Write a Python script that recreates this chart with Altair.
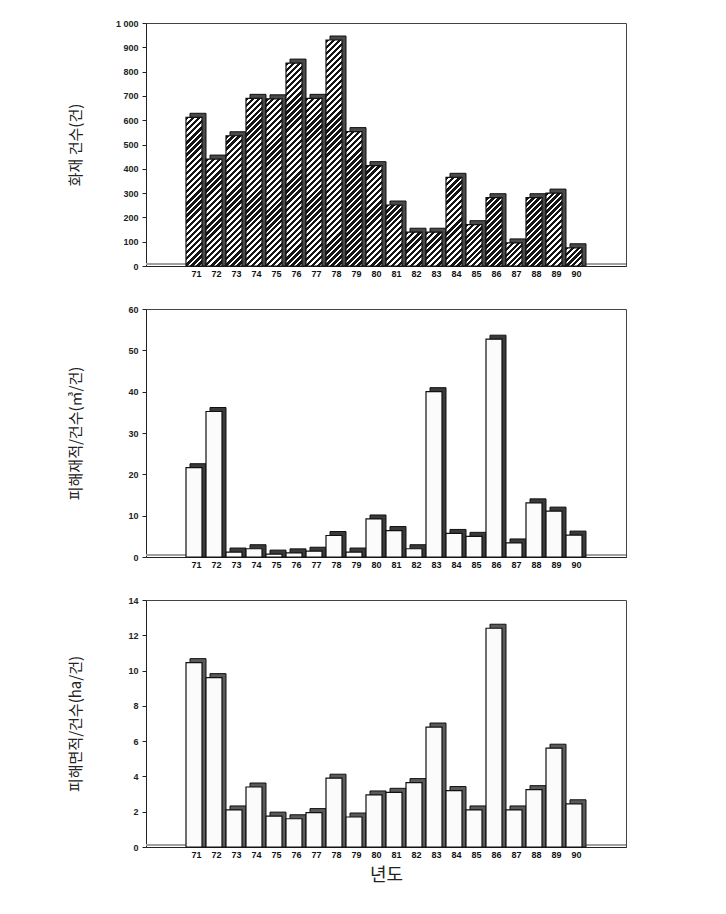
import altair as alt
import pandas as pd

# ---- data ----
years = list(range(71, 91))
fire_counts = [612, 440, 536, 690, 688, 835, 690, 930, 553, 413, 251, 139, 139, 365, 170, 281, 95, 281, 300, 75]
volume_per_fire = [21.6, 35.2, 1.2, 2.0, 0.7, 1.0, 1.4, 5.2, 1.2, 9.2, 6.4, 2.0, 40.0, 5.7, 5.0, 52.7, 3.4, 13.1, 11.1, 5.3]
area_per_fire = [10.45, 9.6, 2.1, 3.4, 1.75, 1.6, 1.95, 3.9, 1.7, 2.95, 3.1, 3.65, 6.8, 3.2, 2.1, 12.4, 2.1, 3.25, 5.6, 2.45]

y_titles = ["화재 건수(건)", "피해재적/건수(㎥/건)", "피해면적/건수(ha/건)"]
x_title = "년도"

# ---- style ----
W = 480
SLOT = W / 24.0
DEPTH = 4
FONT = "Liberation Sans"
KFONT = "Noto Sans CJK KR"
X_DOMAIN = [68.5, 92.5]


def hatch(h, w, period=6.0):
    """Diagonal black/white stripe fill built from a linear gradient (bbox units)."""
    h = max(h, 1.0)
    r = w / h
    k = (w + h) / (h * (1 + r * r))
    n = max(1, int(round((w + h) / period)))
    stops = []
    for i in range(n):
        a, m, b = i / n, (i + 0.55) / n, (i + 1) / n
        stops += [
            {"offset": a, "color": "#151515"},
            {"offset": m, "color": "#151515"},
            {"offset": m, "color": "#ffffff"},
            {"offset": b, "color": "#ffffff"},
        ]
    return {"gradient": "linear", "x1": 0, "y1": 0, "x2": k * r, "y2": k, "stops": stops}


def x_axis(xtitle):
    kw = dict(
        values=years, format="d", ticks=False, grid=False,
        labelFont=FONT, labelFontSize=9, labelFontWeight="bold", labelColor="#111",
        labelPadding=3, domainColor="#222", domainWidth=1,
        labelFlush=False, labelOverlap=False,
    )
    if xtitle:
        kw.update(title=xtitle, titleFont=KFONT, titleFontSize=18, titleFontWeight="normal",
                  titleColor="#222", titlePadding=7)
    else:
        kw.update(title=None)
    return alt.Axis(**kw)


def y_axis(ymax, ystep, title):
    return alt.Axis(
        values=list(range(0, ymax + 1, ystep)), grid=False, labelOverlap=False,
        labelExpr="datum.value == 1000 ? '1 000' : datum.label",
        labelFont=FONT, labelFontSize=9, labelFontWeight="bold", labelColor="#222",
        labelPadding=4, tickSize=4, tickColor="#222", domainColor="#222",
        minExtent=44, maxExtent=44,
        title=title, titleFont=KFONT, titleFontSize=15, titleFontWeight="normal",
        titleColor="#222", titlePadding=19,
    )


def panel(values, ymax, ystep, height, title, back_color, hatched=False, xtitle=None):
    df = pd.DataFrame({"year": years, "value": values})
    base = alt.Chart(df).transform_calculate(
        x0="datum.year - 0.5", x1="datum.year + 0.5", zero="0"
    )
    yscale = alt.Scale(domain=[0, ymax], nice=False)
    xenc = alt.X("x0:Q", scale=alt.Scale(domain=X_DOMAIN, nice=False, zero=False),
                 axis=x_axis(xtitle))
    yenc = alt.Y("value:Q", scale=yscale, axis=y_axis(ymax, ystep, title))
    enc = dict(x=xenc, x2="x1:Q", y=yenc, y2="zero:Q")

    back = base.mark_bar(
        fill=back_color, stroke="#111", strokeWidth=1,
        xOffset=DEPTH, yOffset=-DEPTH,
    ).encode(**enc)

    layers = [back]
    if hatched:
        for yr, v in zip(years, values):
            h = v / ymax * height
            layers.append(
                base.transform_filter(f"datum.year == {yr}").mark_bar(
                    fill=hatch(h, SLOT - DEPTH), stroke="#111", strokeWidth=1.2,
                    x2Offset=-DEPTH,
                ).encode(**enc)
            )
    else:
        layers.append(
            base.mark_bar(
                fill="#fbfbfb", stroke="#111", strokeWidth=1.2, x2Offset=-DEPTH,
            ).encode(**enc)
        )

    # 3-D "floor" band along the baseline, outside the bars
    floor = base.mark_rule(color="#a0a0a0", strokeWidth=2, yOffset=-2).encode(
        x=alt.value(0), x2=alt.value(W),
        y=alt.Y("zero:Q", scale=yscale, axis=y_axis(ymax, ystep, title)),
    )
    layers = [floor] + layers
    return alt.layer(*layers).properties(width=W, height=height)


p1 = panel(fire_counts, 1000, 100, 243, y_titles[0], "#4a4a4a", hatched=True)
p2 = panel(volume_per_fire, 60, 10, 248, y_titles[1], "#3a3a3a")
p3 = panel(area_per_fire, 14, 2, 247, y_titles[2], "#5a5a5a", xtitle=x_title)

chart = (
    alt.vconcat(p1, p2, p3, spacing=25)
    .properties(padding={"left": 59, "top": 10, "right": 5, "bottom": 5}, background="white")
    .configure_view(stroke="#444", strokeWidth=1)
)

chart.save("out.html", embed_options={"renderer": "svg", "actions": False})
